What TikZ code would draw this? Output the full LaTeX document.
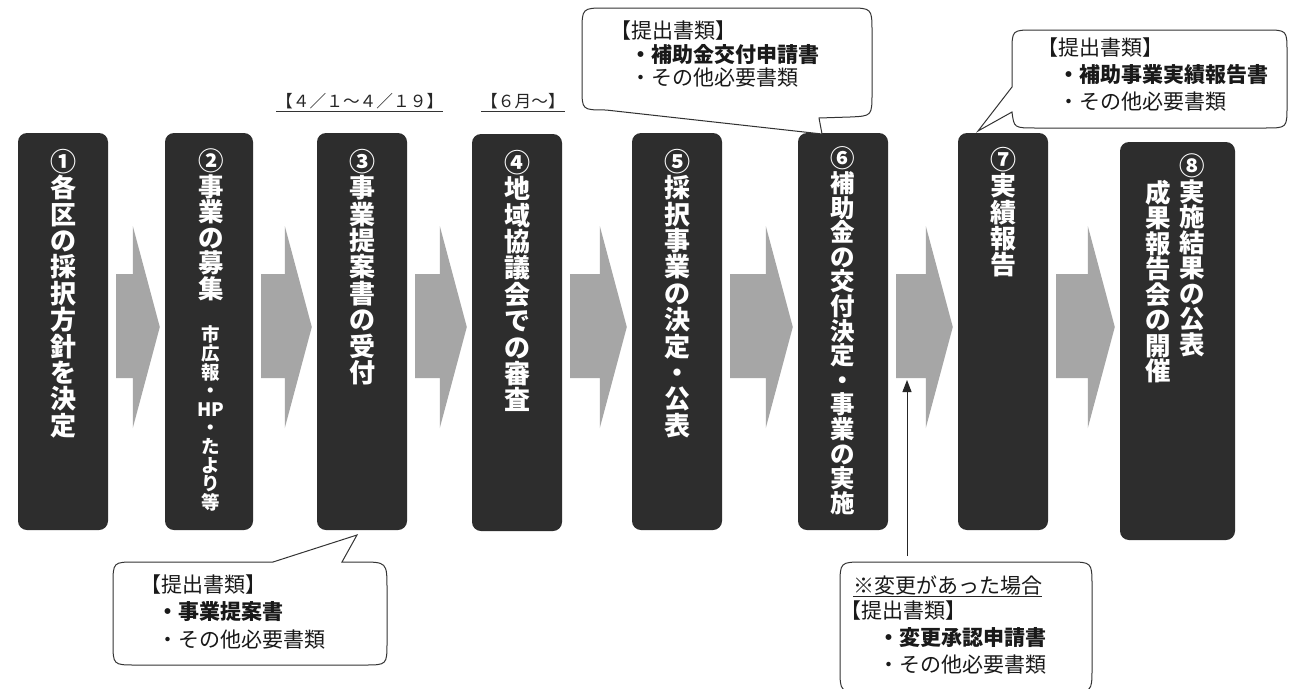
\documentclass[tikz,border=0pt]{standalone}
\usepackage{fontspec}
\newfontfamily\jp{Noto Sans CJK JP}
\usetikzlibrary{arrows.meta,calc}
\definecolor{boxgray}{HTML}{2D2D2D}
\definecolor{arrowgray}{HTML}{A6A6A6}
\definecolor{linegray}{HTML}{333333}
\newcommand\blockarr[2]{%
  \fill[blockarrow] let \p1=(#1.east), \p2=(#2.west) in
   (\x1+8pt,274) -- (\x2-32pt,274) -- (\x2-32pt,226) -- (\x2-5pt,327)
   -- (\x2-32pt,428) -- (\x2-32pt,378) -- (\x1+8pt,378) -- cycle;}
\begin{document}
\begin{tikzpicture}[x=1pt,y=-1pt,
  stepbox/.style={fill=boxgray, rounded corners=9pt, inner sep=0pt, minimum width=90pt, minimum height=397pt},
  vtext/.style={text=white, font=\jp\bfseries\fontsize{26}{26.4}\selectfont, align=center, inner sep=0pt, anchor=north},
  vsmall/.style={text=white, font=\jp\bfseries\fontsize{18.5}{18.6}\selectfont, align=center, inner sep=0pt, anchor=north},
  blockarrow/.style={fill=arrowgray},
  callout/.style={draw=linegray, line width=1pt, fill=white},
  ctext/.style={font=\jp\fontsize{21}{24}\selectfont, anchor=west, inner sep=0pt, text=black!90},
  cbold/.style={ctext, font=\jp\bfseries\fontsize{21}{24}\selectfont},
  datelab/.style={font=\jp\fontsize{16.7}{20}\selectfont, anchor=west, inner sep=0pt, text=black!85}
]
\useasboundingbox (0,0) rectangle (1290,688);
\fill[white] (0,0) rectangle (1290,688);
\clip (0,0) rectangle (1290,688);

% boxes
\node[stepbox] (b1) at (63,331.5) {};
\node[stepbox, minimum width=88pt] (b2) at (209,331.5) {};
\node[stepbox] (b3) at (362,331.5) {};
\node[stepbox] (b4) at (517,332.5) {};
\node[stepbox] (b5) at (677,331.5) {};
\node[stepbox] (b6) at (843,331.5) {};
\node[stepbox] (b7) at (1003,331.5) {};
\node[stepbox, minimum width=115pt, minimum height=398pt] (b8) at (1177.5,341) {};

% box texts
\node[vtext] (t1) at ($(b1.north)+(0,16)$) {①\\各\\区\\の\\採\\択\\方\\針\\を\\決\\定};
\node[vtext, font=\jp\bfseries\fontsize{25.5}{25.5}\selectfont] (t2) at ($(b2.north)+(2,16)$) {②\\事\\業\\の\\募\\集};
\node[vsmall] (t2s) at ($(b2.north)+(2,193)$) {市\\広\\報\\・\\HP\\・\\た\\よ\\り\\等};
\node[vtext] (t3) at ($(b3.north)+(0,16)$) {③\\事\\業\\提\\案\\書\\の\\受\\付};
\node[vtext] (t4) at ($(b4.north)+(0,16)$) {④\\地\\域\\協\\議\\会\\で\\の\\審\\査};
\node[vtext] (t5) at ($(b5.north)+(0,16)$) {⑤\\採\\択\\事\\業\\の\\決\\定\\・\\公\\表};
\node[vtext, font=\jp\bfseries\fontsize{24.5}{24.6}\selectfont] (t6) at ($(b6.north)+(0,14)$) {⑥\\補\\助\\金\\の\\交\\付\\決\\定\\・\\事\\業\\の\\実\\施};
\node[vtext] (t7) at ($(b7.north)+(0,14)$) {⑦\\実\\績\\報\\告};
\node[vtext, font=\jp\bfseries\fontsize{25.5}{25.5}\selectfont] (t8a) at ($(b8.north)+(15,12)$) {⑧\\実\\施\\結\\果\\の\\公\\表};
\node[vtext, font=\jp\bfseries\fontsize{25.5}{25.5}\selectfont] (t8b) at ($(b8.north)+(-19,38)$) {成\\果\\報\\告\\会\\の\\開\\催};

% block arrows
\blockarr{b1}{b2}
\blockarr{b2}{b3}
\blockarr{b3}{b4}
\blockarr{b4}{b5}
\blockarr{b5}{b6}
\blockarr{b6}{b7}
\blockarr{b7}{b8}

% date labels
\node[datelab] (d1) at (276,101) {【４／１～４／１９】};
\draw[line width=0.9pt, black!80] ([yshift=-2pt]d1.south west) -- ([yshift=-2pt]d1.south east);
\node[datelab] (d2) at (481,101) {【６月～】};
\draw[line width=0.9pt, black!80] ([yshift=-2pt]d2.south west) -- ([yshift=-2pt]d2.south east);

% callout A (top, to box 6)
\draw[callout] (582,60) -- (582,32) .. controls (582,8) .. (606,8) -- (848,8)
  .. controls (872,8) .. (872,32) -- (872,93) .. controls (872,116) .. (850,117)
  -- (819,118) -- (822,134) -- (606,110) .. controls (582,110) .. (582,88) -- cycle;
\node[ctext] (a1) at (610,31) {【提出書類】};
\node[cbold] (a2) at (630,55) {・補助金交付申請書};
\node[ctext] (a3) at (630,78) {・その他必要書類};

% callout B (top right, to box 7)
\draw[callout] (1012,87) -- (1012,52) .. controls (1012,30) .. (1034,30) -- (1265,30)
  .. controls (1287,30) .. (1287,52) -- (1287,106) .. controls (1287,128) .. (1265,128)
  -- (1036,128) .. controls (1014,128) .. (1012,112) -- (978,131) -- cycle;
\node[ctext] (bb1) at (1037,48) {【提出書類】};
\node[cbold] (bb2) at (1058,75) {・補助事業実績報告書};
\node[ctext] (bb3) at (1058,102) {・その他必要書類};

% callout C (bottom left, to box 3)
\draw[callout] (113,610) -- (113,585) .. controls (113,562) .. (136,562) -- (273,562)
  -- (357,535) -- (342,562) -- (360,562) .. controls (387,562) .. (387,589)
  -- (387,642) .. controls (387,665) .. (364,665) -- (136,665)
  .. controls (113,665) .. (113,642) -- cycle;
\node[ctext] (c1) at (140,585) {【提出書類】};
\node[cbold] (c2) at (157,612) {・事業提案書};
\node[ctext] (c3) at (157,640) {・その他必要書類};

% callout D (bottom, change)
\draw[callout] (840,640) -- (840,586) .. controls (840,562) .. (864,562) -- (1068,562)
  .. controls (1092,562) .. (1092,586) -- (1092,668) .. controls (1092,692) .. (1068,692)
  -- (864,692) .. controls (840,692) .. (840,668) -- cycle;
\node[ctext] (e1) at (853,585) {※変更があった場合};
\draw[line width=0.9pt, black!85] ([yshift=-1pt]e1.south west) -- ([yshift=-1pt]e1.south east);
\node[ctext] (e2) at (840,611) {【提出書類】};
\node[cbold] (e3) at (878,638) {・変更承認申請書};
\node[ctext] (e4) at (878,665) {・その他必要書類};

\coordinate (dtop) at (907,556);
\coordinate (dtip) at (907,380);
\draw[line width=1pt, black!85, -{Triangle[length=12pt,width=9pt]}] (dtop) -- (dtip);
\end{tikzpicture}
\end{document}
